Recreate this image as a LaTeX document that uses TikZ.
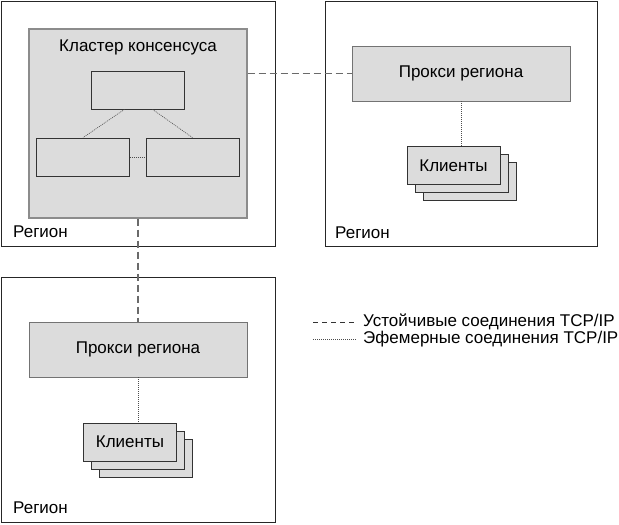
\documentclass[tikz,border=0pt]{standalone}
\usepackage{fontspec}
\setmainfont{Liberation Sans}
\usetikzlibrary{positioning}

\definecolor{boxgray}{HTML}{DCDCDC}
\definecolor{linkgray}{HTML}{6A6A6A}

\tikzset{
  region/.style={draw=black!85, line width=0.9pt},
  regionlabel/.style={anchor=west, inner sep=0pt},
  cluster/.style={draw=black!45, line width=1.4pt, fill=boxgray, minimum width=218pt, minimum height=189pt, inner sep=0pt},
  proxy/.style={draw=black!55, line width=0.9pt, fill=boxgray, minimum width=218pt, minimum height=55pt, inner sep=0pt},
  member/.style={draw=black!80, line width=0.7pt, fill=boxgray, minimum width=93pt, minimum height=38pt, inner sep=0pt},
  clientbox/.style={draw=black!80, line width=0.7pt, fill=boxgray, minimum width=93pt, minimum height=38pt, inner sep=0pt},
  persistent/.style={draw=linkgray, line width=1.3pt, dash pattern=on 7pt off 4pt},
  ephemeral/.style={draw=black!70, line width=0.6pt, dash pattern=on 1pt off 1pt}
}

\begin{document}
\begin{tikzpicture}[x=1pt, y=-1pt, font=\fontsize{17}{20}\selectfont]
    \useasboundingbox (0,0) rectangle (619,525);
    % regions
    \draw[region] (1,1) rectangle (275,246);
    \draw[region] (325,1) rectangle (597,246);
    \draw[region] (1,277) rectangle (275,522);
    \node[regionlabel] (regA) at (13,232) {Регион};
    \node[regionlabel] (regB) at (335,233) {Регион};
    \node[regionlabel] (regC) at (13,508) {Регион};
    % consensus cluster
    \node[cluster] (cluster) at (138,123.5) {};
    \node (title) at (138,47) {Кластер консенсуса};
    \node[member] (top) at (137.5,90) {};
    \node[member] (left) at (83,157) {};
    \node[member] (right) at (192.5,157) {};
    \draw[ephemeral] (top.south) ++(-13,0) -- (left.north);
    \draw[ephemeral] (top.south) ++(15,0) -- (right.north);
    \draw[ephemeral] (left.east) -- (right.west);
    % proxies
    \node[proxy] (proxyB) at (461,73.5) {Прокси региона};
    \node[proxy] (proxyC) at (138,349.5) {Прокси региона};
    % clients
    \foreach \i in {2,1,0} {
      \node[clientbox] (cliB\i) at (453.5+8*\i,165.5+8*\i) {};
      \node[clientbox] (cliC\i) at (130+8*\i,442+8*\i) {};
    }
    \node at (cliB0) {Клиенты};
    \node at (cliC0) {Клиенты};
    % links
    \draw[persistent] (cluster.east |- proxyB.west) -- (proxyB.west);
    \draw[persistent] (cluster.south) -- (proxyC.north);
    \draw[ephemeral] (proxyB.south) -- (proxyB.south |- cliB0.north);
    \draw[ephemeral] (proxyC.south) -- (proxyC.south |- cliC0.north);
    % legend
    \coordinate (legA) at (313,322);
    \coordinate (legB) at (313,339);
    \draw[persistent, line width=0.9pt, draw=black!80, dash pattern=on 5pt off 4pt] (legA) -- ++(44,0);
    \draw[ephemeral] (legB) -- ++(44,0);
    \node[anchor=west, inner sep=0pt] (legAtext) at (363,322) {Устойчивые соединения TCP/IP};
    \node[anchor=west, inner sep=0pt] (legBtext) at (363,339) {Эфемерные соединения TCP/IP};
\end{tikzpicture}
\end{document}
